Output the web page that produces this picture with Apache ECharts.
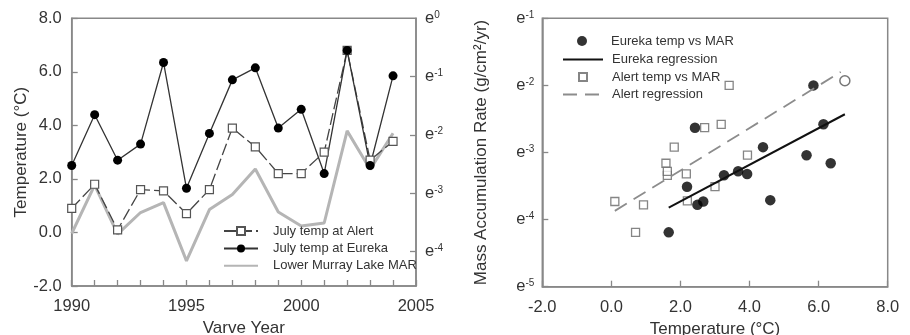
<!DOCTYPE html>
<html>
<head>
<meta charset="utf-8">
<script src="https://cdn.jsdelivr.net/npm/echarts@6/dist/echarts.min.js"></script>
<style>
  html, body { margin: 0; padding: 0; background: #fff; }
  #chart { width: 910px; height: 335px; }
</style>
</head>
<body>
<div id="chart"></div>
<script>
// left panel: July temperatures and lake MAR by varve year
var years = [1990, 1991, 1992, 1993, 1994, 1995, 1996, 1997, 1998, 1999, 2000, 2001, 2002, 2003, 2004];
var eurekaTemp = [2.5, 4.4, 2.7, 3.3, 6.35, 1.65, 3.7, 5.7, 6.15, 3.9, 4.6, 2.2, 6.8, 2.5, 5.85];
var alertTemp = [0.9, 1.8, 0.1, 1.6, 1.55, 0.7, 1.6, 3.9, 3.2, 2.2, 2.2, 3.0, 6.8, 2.7, 3.4];
// MAR as natural log (right axis labelled e^n)
var marLn = [-3.69, -2.86, -3.70, -3.33, -3.16, -4.16, -3.28, -3.02, -2.585, -3.32, -3.56, -3.51, -1.93, -2.59, -1.97];
var marTicks = [0, -1, -2, -3, -4];

// right panel: temperature vs ln(MAR)
var eurekaScatter = [[2.49, -3.78], [4.39, -2.92], [2.66, -3.73], [3.26, -3.34], [6.35, -3.16], [1.66, -4.19], [3.67, -3.28],
  [5.65, -3.04], [6.14, -2.58], [3.93, -3.32], [4.60, -3.71], [2.19, -3.51], [2.42, -2.63], [5.85, -2.0]];
var alertScatter = [[0.93, -3.78], [1.82, -2.92], [0.10, -3.73], [1.62, -3.34], [1.58, -3.16], [0.70, -4.19], [1.62, -3.28],
  [3.94, -3.04], [3.18, -2.58], [2.17, -3.32], [2.20, -3.72], [3.00, -3.51], [2.70, -2.63], [3.41, -2.0]];
var sharedPoint = [[6.76, -1.93]]; // 2002, both stations on top of each other
var eurekaRegression = [[1.66, -3.82], [6.76, -2.43]];
var alertRegression = [[0.10, -3.87], [6.64, -1.80]];

var textColor = '#333';
var axisColor = '#888';
var font = '"Liberation Sans", Arial, sans-serif';

function pairs(xs, ys) {
    return xs.map(function (x, i) { return [x, ys[i]]; });
}

function expLabel(v) {
    return '{e|e}{s|' + Math.round(v) + '}';
}
var expRich = {
    e: { fontSize: 16.5, color: textColor, fontFamily: font },
    s: { fontSize: 10, color: textColor, fontFamily: font, verticalAlign: 'top' }
};

var axisLine = { show: true, onZero: false, lineStyle: { color: axisColor, width: 1.5 } };
var tickIn = { show: true, inside: true, length: 6, lineStyle: { color: axisColor, width: 1.3 } };
var labelStyle = { fontSize: 16.5, color: textColor, fontFamily: font };
var nameStyle = { fontSize: 17, color: textColor, fontFamily: font };
var legendText = { fontSize: 13, color: textColor, lineHeight: 14 };

// one legend per entry on the right so each symbol keeps its own size;
// a lone symbol icon is narrower than the 40px slot, so shift it to stay centred
function rightLegend(name, top, h, extra, symbolOnly) {
    var item = Object.assign({ name: name }, extra || {});
    return {
        orient: 'vertical', left: symbolOnly ? 562 + (40 - h) / 2 : 562, top: top, padding: 0,
        itemWidth: 40, itemHeight: h,
        data: [item],
        textStyle: Object.assign({ padding: [0, 0, 0, 4] }, legendText)
    };
}

var chart = echarts.init(document.getElementById('chart'), null, { renderer: 'canvas' });

var option = {
    animation: false,
    textStyle: { fontFamily: font },
    grid: [
        { left: 71.7, top: 18.3, width: 344.3, height: 267.7, outerBoundsMode: 'none',
          show: true, borderColor: axisColor, borderWidth: 1.5 },
        { left: 542.3, top: 18.3, width: 345.4, height: 268.4, outerBoundsMode: 'none',
          show: true, borderColor: axisColor, borderWidth: 1.5 }
    ],
    legend: [
        {
            orient: 'vertical', left: 223, top: 224, padding: 0,
            itemWidth: 34, itemHeight: 10, itemGap: 3.4,
            data: ['July temp at Alert', 'July temp at Eureka',
                { name: 'Lower Murray Lake MAR', itemStyle: { opacity: 0 } }],
            textStyle: Object.assign({ padding: [0, 0, 0, 10] }, legendText)
        },
        rightLegend('Eureka temp vs MAR', 34, 10, { icon: 'circle' }, true),
        rightLegend('Eureka regression', 52.5, 10, { itemStyle: { opacity: 0 } }),
        rightLegend('Alert temp vs MAR', 70, 8, { icon: 'path://M0,0h10v10h-10z' }, true),
        rightLegend('Alert regression', 87.5, 10, { itemStyle: { opacity: 0 } })
    ],
    xAxis: [
        {
            gridIndex: 0, type: 'value', min: 1990, max: 2005, interval: 1,
            axisLine: axisLine, axisTick: tickIn, splitLine: { show: false },
            axisLabel: Object.assign({ margin: 12, showMinLabel: true, showMaxLabel: true,
                formatter: function (v) { return v % 5 === 0 ? String(v) : ''; } }, labelStyle),
            name: 'Varve Year', nameLocation: 'middle', nameGap: 26, nameTextStyle: nameStyle
        },
        {
            gridIndex: 1, type: 'value', min: -2, max: 8, interval: 2,
            axisLine: axisLine, axisTick: tickIn, splitLine: { show: false },
            axisLabel: Object.assign({ margin: 12, showMinLabel: true, showMaxLabel: true,
                formatter: function (v) { return v.toFixed(1); } }, labelStyle),
            name: 'Temperature (°C)', nameLocation: 'middle', nameGap: 26, nameTextStyle: nameStyle
        }
    ],
    yAxis: [
        {
            gridIndex: 0, type: 'value', position: 'left', min: -2, max: 8, interval: 2,
            axisLine: axisLine, axisTick: tickIn, splitLine: { show: false },
            axisLabel: Object.assign({ margin: 10, formatter: function (v) { return v.toFixed(1); } }, labelStyle),
            name: 'Temperature (°C)', nameLocation: 'middle', nameGap: 42, nameRotate: 90, nameTextStyle: nameStyle
        },
        {
            gridIndex: 0, type: 'value', position: 'right', min: -4.59, max: 0,
            axisLine: axisLine, splitLine: { show: false },
            axisTick: Object.assign({ customValues: marTicks.slice(1) }, tickIn),
            axisLabel: { margin: 9, customValues: marTicks, formatter: expLabel, rich: expRich }
        },
        {
            gridIndex: 1, type: 'value', min: -5, max: -1, interval: 1,
            axisLine: axisLine, axisTick: tickIn, splitLine: { show: false },
            axisLabel: { margin: 8, showMinLabel: true, showMaxLabel: true, formatter: expLabel, rich: expRich },
            name: 'Mass Accumulation Rate (g/cm²/yr)', nameLocation: 'middle', nameGap: 52, nameRotate: 90,
            nameTextStyle: nameStyle
        }
    ],
    series: [
        {
            name: 'Lower Murray Lake MAR', type: 'line', xAxisIndex: 0, yAxisIndex: 1,
            data: pairs(years, marLn), symbol: 'none',
            lineStyle: { color: '#b5b5b5', width: 3 }, itemStyle: { color: '#b5b5b5' }
        },
        {
            name: 'July temp at Alert', type: 'line', xAxisIndex: 0, yAxisIndex: 0,
            data: pairs(years, alertTemp), symbol: 'rect', symbolSize: 8,
            itemStyle: { color: '#fff', borderColor: '#555', borderWidth: 1.2 },
            lineStyle: { color: '#444', width: 1.3, type: [12, 4] }
        },
        {
            name: 'July temp at Eureka', type: 'line', xAxisIndex: 0, yAxisIndex: 0,
            data: pairs(years, eurekaTemp), symbol: 'circle', symbolSize: 9,
            itemStyle: { color: '#000' }, lineStyle: { color: '#333', width: 1.3 }
        },
        {
            name: 'Eureka regression', type: 'line', xAxisIndex: 1, yAxisIndex: 2,
            data: eurekaRegression, symbol: 'none',
            lineStyle: { color: '#111', width: 2 }, itemStyle: { color: '#111' }
        },
        {
            name: 'Alert regression', type: 'line', xAxisIndex: 1, yAxisIndex: 2,
            data: alertRegression, symbol: 'none',
            lineStyle: { color: '#8c8c8c', width: 1.8, type: [14, 8] }, itemStyle: { color: '#8c8c8c' }
        },
        {
            name: 'Eureka temp vs MAR', type: 'scatter', xAxisIndex: 1, yAxisIndex: 2,
            data: eurekaScatter, symbol: 'circle', symbolSize: 10.5,
            itemStyle: { color: '#000' }
        },
        {
            name: 'Alert temp vs MAR', type: 'scatter', xAxisIndex: 1, yAxisIndex: 2,
            data: alertScatter, symbol: 'rect', symbolSize: 8,
            itemStyle: { color: '#fff', borderColor: '#666', borderWidth: 1.3 }
        },
        {
            name: '2002', type: 'scatter', xAxisIndex: 1, yAxisIndex: 2,
            data: sharedPoint, symbol: 'circle', symbolSize: 10,
            itemStyle: { color: '#fff', borderColor: '#555', borderWidth: 1.5 }
        }
    ]
};

chart.setOption(option);
window.addEventListener('resize', chart.resize);
</script>
</body>
</html>
